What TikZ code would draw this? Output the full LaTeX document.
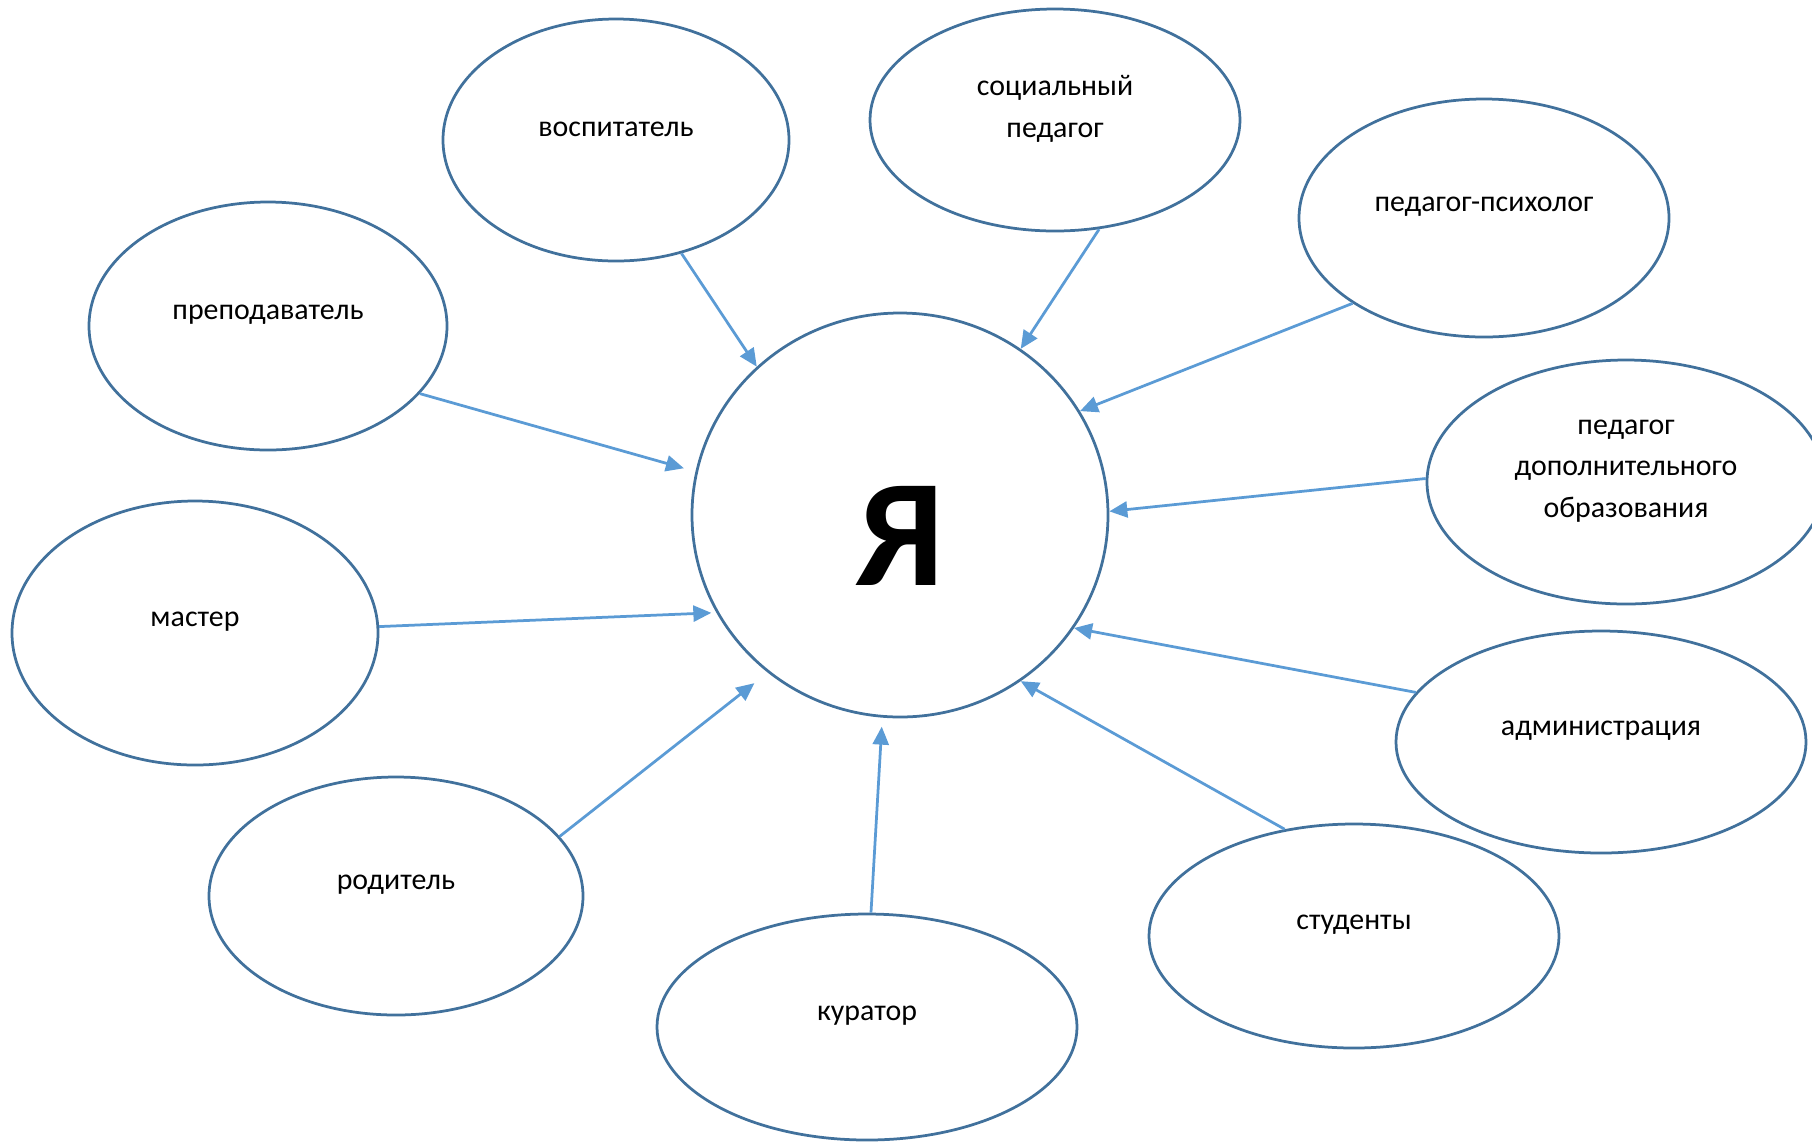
\documentclass[tikz,border=0pt]{standalone}
\usepackage{fontspec}
\setmainfont{Carlito}
\usetikzlibrary{arrows.meta, shapes.geometric}
\definecolor{darkRim}   {RGB}{65,  113, 156}
\definecolor{lightArrow}{RGB}{91,  155, 213}

\begin{document}
\begin{tikzpicture}[x=0.2mm, y=-0.2mm,
  bubble/.style={ellipse, draw=darkRim, line width=0.55mm, inner sep=0pt,
    label={[yshift=0.22cm, align=center, font=\fontsize{17}{23.7}\selectfont]center:#1}},
  self/.style={ellipse, draw=darkRim, line width=0.55mm, inner sep=0pt,
    label={[yshift=-0.42cm, font=\bfseries\fontsize{87}{90}\selectfont]center:#1}},
  link/.style={draw=lightArrow, line width=0.55mm, -{Triangle[length=3.6mm, width=3.2mm]}}]
  \useasboundingbox (0,0) rectangle (1812,1141);
  \clip (0,0) rectangle (1812,1141);

  \node[self=Я, minimum width=8.32cm, minimum height=8.08cm] (ja) at (900,515) {};

  \node[bubble=воспитатель, minimum width=6.92cm, minimum height=4.84cm] (vosp) at (616,140) {};
  \node[bubble={социальный\\педагог}, minimum width=7.4cm, minimum height=4.44cm] (soc) at (1055,120) {};
  \node[bubble=педагог-психолог, minimum width=7.4cm, minimum height=4.76cm] (psych) at (1484,218) {};
  \node[bubble={педагог\\дополнительного\\образования}, minimum width=7.96cm, minimum height=4.88cm] (dop) at (1626,482) {};
  \node[bubble=администрация, minimum width=8.2cm, minimum height=4.44cm] (adm) at (1601,742) {};
  \node[bubble=студенты, minimum width=8.2cm, minimum height=4.48cm] (stud) at (1354,936) {};
  \node[bubble=куратор, minimum width=8.4cm, minimum height=4.52cm] (kur) at (867,1027) {};
  \node[bubble=родитель, minimum width=7.48cm, minimum height=4.76cm] (rod) at (396,896) {};
  \node[bubble=мастер, minimum width=7.32cm, minimum height=5.28cm] (mast) at (195,633) {};
  \node[bubble=преподаватель, minimum width=7.16cm, minimum height=4.96cm] (prep) at (268,326) {};

  \draw[link] (vosp.-60) -- (ja.134);
  \draw[link] (soc.-68) -- (ja.54);
  \draw[link] (psych.213) -- (ja.30);
  \draw[link] (dop.179) -- (ja.1);
  \draw[link] (adm.165) -- (ja.-33);
  \draw[link] (stud.123) -- (ja.-54);
  \draw[link, shorten >=0.18cm] (kur.88) -- (ja.-95);
  \draw[link, shorten >=0.34cm] (rod.20) -- (ja.-130);
  \draw[link, shorten >=0.1cm] (mast.2) -- (ja.-152);
  \draw[link, shorten >=0.24cm] (prep.-24) -- (ja.168);
\end{tikzpicture}
\end{document}
